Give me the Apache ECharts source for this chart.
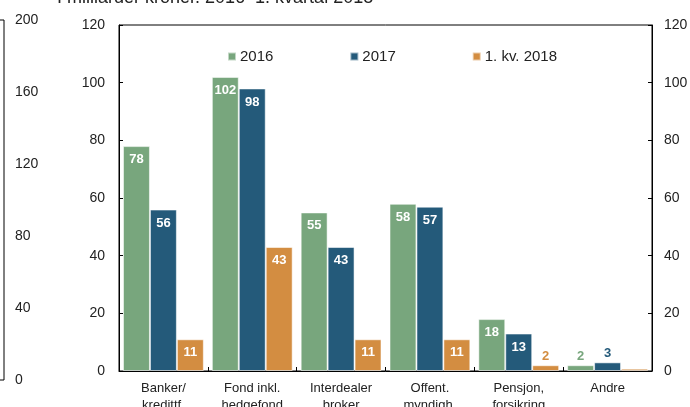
<!DOCTYPE html>
<html>
<head>
<meta charset="utf-8">
<script src="https://cdn.jsdelivr.net/npm/echarts@6/dist/echarts.min.js"></script>
<style>
  html, body { margin: 0; padding: 0; background: #fff; }
  #chart { width: 690px; height: 407px; }
</style>
</head>
<body>
<div id="chart"></div>
<script>
// Omsetning fordelt på motpartstype, milliarder kroner
const categories = ['Banker/\nkredittf.', 'Fond inkl.\nhedgefond', 'Interdealer\nbroker', 'Offent.\nmyndigh.', 'Pensjon,\nforsikring', 'Andre'];
const seriesNames = ['2016', '2017', '1. kv. 2018'];
const values2016 = [78, 102, 55, 58, 18, 2];
const values2017 = [56, 98, 43, 57, 13, 3];
const values2018q1 = [11, 43, 11, 11, 2, 0.8];
const colors = ['#78a67d', '#245a7a', '#d38d41'];
const titleText = 'I milliarder kroner. 2016–1. kvartal 2018';

const FONT = '"Liberation Sans", Arial, sans-serif';

// values below this are labelled above the bar in the series colour
const SMALL = 6;

function makeSeries(name, data, color) {
  return {
    name: name,
    type: 'bar',
    xAxisIndex: 0,
    yAxisIndex: 0,
    barGap: '0%',
    barCategoryGap: '9%',
    itemStyle: { color: color, borderColor: 'rgba(255,255,255,0.55)', borderWidth: 1 },
    data: data.map(v => {
      const small = v < SMALL;
      const labelShown = v >= 1;
      return {
        value: v,
        label: {
          show: labelShown,
          position: small ? 'top' : 'insideTop',
          distance: small ? 2 : 7,
          color: small ? color : '#ffffff',
          fontFamily: FONT,
          fontWeight: 'bold',
          fontSize: 13,
          formatter: p => Math.round(p.value)
        }
      };
    })
  };
}

const chart = echarts.init(document.getElementById('chart'), null, { renderer: 'canvas' });

chart.setOption({
  animation: false,
  textStyle: { fontFamily: FONT },
  graphic: [{
    type: 'text',
    x: 57,
    y: -11,
    silent: true,
    style: {
      text: titleText,
      fontFamily: FONT,
      fontSize: 18,
      fill: '#222',
      align: 'left',
      verticalAlign: 'top'
    }
  }],
  legend: {
    top: 44,
    left: 222,
    itemGap: 76,
    itemWidth: 8,
    itemHeight: 8,
    icon: 'rect',
    textStyle: { fontFamily: FONT, fontSize: 15, color: '#222', padding: [0, 0, 0, -1] },
    data: seriesNames
  },
  grid: [
    { left: 119, right: 38, top: 25, bottom: 36, show: true, borderColor: '#000', borderWidth: 1,
      containLabel: false, outerBoundsMode: 'none' },
    { left: -2, width: 6, top: 20, bottom: 27, show: true, borderColor: '#000', borderWidth: 1,
      containLabel: false, outerBoundsMode: 'none' }
  ],
  xAxis: [
    {
      type: 'category',
      gridIndex: 0,
      data: categories,
      axisLine: { lineStyle: { color: '#000' } },
      axisTick: { show: true, inside: true, length: 4, lineStyle: { color: '#000' } },
      axisLabel: { fontFamily: FONT, fontSize: 13, color: '#222', margin: 9, lineHeight: 17, interval: 0 }
    },
    { type: 'value', gridIndex: 1, show: false, min: 0, max: 1 }
  ],
  yAxis: [
    {
      type: 'value', gridIndex: 0, position: 'left', min: 0, max: 120, interval: 20,
      axisLine: { show: true, lineStyle: { color: '#000' } },
      axisTick: { show: true, inside: true, length: 4, lineStyle: { color: '#000' } },
      splitLine: { show: false },
      axisLabel: { fontFamily: FONT, fontSize: 14, color: '#222', margin: 14 }
    },
    {
      type: 'value', gridIndex: 0, position: 'right', min: 0, max: 120, interval: 20,
      axisLine: { show: true, lineStyle: { color: '#000' } },
      axisTick: { show: true, inside: true, length: 4, lineStyle: { color: '#000' } },
      splitLine: { show: false },
      axisLabel: { fontFamily: FONT, fontSize: 14, color: '#222', margin: 12 }
    },
    {
      type: 'value', gridIndex: 1, position: 'right', min: 0, max: 200, interval: 40,
      axisLine: { show: true, lineStyle: { color: '#000' } },
      axisTick: { show: true, inside: true, length: 4, lineStyle: { color: '#000' } },
      splitLine: { show: false },
      axisLabel: { fontFamily: FONT, fontSize: 14, color: '#222', margin: 11 }
    }
  ],
  color: colors,
  series: [
    makeSeries(seriesNames[0], values2016, colors[0]),
    makeSeries(seriesNames[1], values2017, colors[1]),
    makeSeries(seriesNames[2], values2018q1, colors[2])
  ]
});
</script>
</body>
</html>
